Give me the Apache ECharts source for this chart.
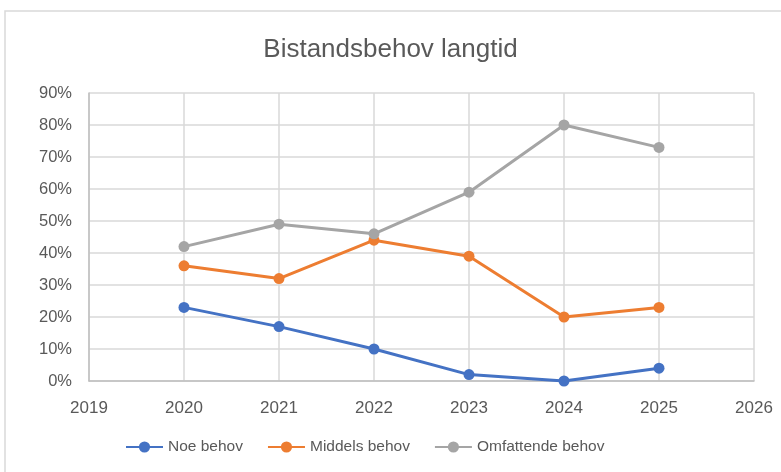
<!DOCTYPE html>
<html><head><meta charset="utf-8">
<script src="https://cdn.jsdelivr.net/npm/echarts@6/dist/echarts.min.js"></script>
<style>html,body{margin:0;padding:0;background:#fff}#c{width:781px;height:472px}</style>
</head><body><div id="c"></div>
<script>
const years = [2020, 2021, 2022, 2023, 2024, 2025];
const noeBehov = [23, 17, 10, 2, 0, 4];
const middelsBehov = [36, 32, 44, 39, 20, 23];
const omfattendeBehov = [42, 49, 46, 59, 80, 73];
const seriesNames = ['Noe behov', 'Middels behov', 'Omfattende behov'];
const colors = ['#4472C4', '#ED7D31', '#A5A5A5'];

const font = 'Liberation Sans, Arial, sans-serif';
const chart = echarts.init(document.getElementById('c'));
const mk = (name, vals, color) => ({
  name, type: 'line', data: years.map((y, i) => [y, vals[i]]),
  symbol: 'circle', symbolSize: 11,
  lineStyle: { width: 3, color }, itemStyle: { color },
  animation: false
});
chart.setOption({
  animation: false,
  graphic: [{ type: 'rect', shape: { x: 5, y: 11, width: 800, height: 480 },
    style: { fill: 'none', stroke: '#D9D9D9', lineWidth: 1.5 }, z: -1 }],
  title: { text: 'Bistandsbehov langtid', left: 'center', top: 32,
    textStyle: { fontFamily: font, fontSize: 26, fontWeight: 'normal', color: '#595959' } },
  grid: { left: 89, right: 27, top: 93, bottom: 91, containLabel: false },
  xAxis: { type: 'value', min: 2019, max: 2026, interval: 1,
    axisLine: { show: true, lineStyle: { color: '#BFBFBF', width: 1.5 } },
    axisTick: { show: false },
    splitLine: { show: true, lineStyle: { color: '#D9D9D9', width: 1.5 } },
    axisLabel: { formatter: v => String(v), color: '#595959', fontFamily: font, fontSize: 17, margin: 19 } },
  yAxis: { type: 'value', min: 0, max: 90, interval: 10,
    axisLine: { show: true, lineStyle: { color: '#BFBFBF', width: 1.5 } },
    axisTick: { show: false },
    splitLine: { show: true, lineStyle: { color: '#D9D9D9', width: 1.5 } },
    axisLabel: { formatter: v => v + '%', color: '#595959', fontFamily: font, fontSize: 16.5, margin: 17 } },
  legend: { bottom: 12, left: 120, itemWidth: 37, itemHeight: 14, itemGap: 24,
    textStyle: { fontFamily: font, fontSize: 15.5, color: '#595959' },
    data: seriesNames },
  series: [
    mk(seriesNames[0], noeBehov, colors[0]),
    mk(seriesNames[1], middelsBehov, colors[1]),
    mk(seriesNames[2], omfattendeBehov, colors[2])
  ]
});
</script></body></html>
